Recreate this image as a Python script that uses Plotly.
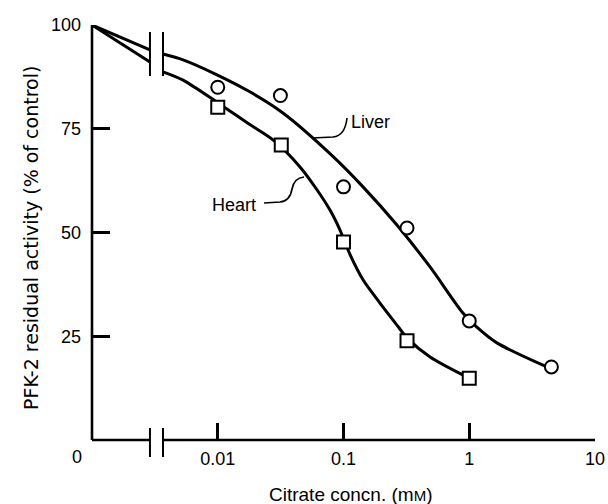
import plotly.graph_objects as go
import math

# ---- data ----
# Citrate concentration (mM); 0 mM is drawn at 0.001 on the broken log axis
liver_x = [0.01, 0.0315, 0.1, 0.32, 1.0, 4.5]
liver_y = [85.0, 83.0, 61.0, 51.1, 28.7, 17.6]
heart_x = [0.01, 0.032, 0.1, 0.32, 1.0]
heart_y = [80.2, 71.1, 47.7, 23.9, 14.9]

# fitted curves as drawn, split by the axis break
liver_seg1_x = [0.001, 0.00289]
liver_seg1_y = [100.0, 94.0]
liver_seg2_x = [0.00367, 0.0053, 0.00986, 0.0180, 0.0330, 0.0781, 0.143, 0.266, 0.488, 0.891, 1.15, 1.66, 4.15]
liver_seg2_y = [93.0, 91.6, 88.0, 83.9, 78.8, 69.0, 61.0, 51.8, 41.7, 30.6, 27.2, 23.4, 17.6]
heart_seg1_x = [0.001, 0.00289]
heart_seg1_y = [100.0, 91.1]
heart_seg2_x = [0.00367, 0.0053, 0.00986, 0.0180, 0.0275, 0.0451, 0.0615, 0.0781, 0.0938, 0.113, 0.143,
                0.195, 0.266, 0.320, 0.488, 1.0]
heart_seg2_y = [88.7, 86.7, 81.4, 76.0, 72.3, 65.8, 60.3, 55.4, 50.6, 44.6, 38.6,
                33.0, 27.7, 24.6, 20.0, 14.9]

x_tickvals = [0.01, 0.1, 1, 10]
x_ticktext = ["0.01", "0.1", "1", "10"]
y_tickvals = [25, 50, 75, 100]
y_ticktext = ["25", "50", "75", "100"]

break_lo = 0.00289
break_hi = 0.00367

FONT = "Liberation Sans, Arial, Helvetica, sans-serif"
FONT_WIDE = "DejaVu Sans, Verdana, sans-serif"
W, H = 608, 504
# plot area in page pixels: x 92..595, y 25..440
L, R, T, B = 92, W - 595, 25, H - 440
PW, PH = W - L - R, H - T - B


def px(x):  # pixel x -> paper
    return (x - L) / PW


def py(y):  # pixel y -> paper
    return (H - B - y) / PH


def xp(v):
    return (math.log10(v) + 3) / 4


fig = go.Figure()
curve_line = dict(color="black", width=3)
for sx, sy in [(liver_seg1_x, liver_seg1_y), (liver_seg2_x, liver_seg2_y),
               (heart_seg1_x, heart_seg1_y), (heart_seg2_x, heart_seg2_y)]:
    fig.add_trace(go.Scatter(x=sx, y=sy, mode="lines", line=dict(shape="spline", smoothing=0.8, **curve_line),
                             hoverinfo="skip", showlegend=False))

fig.add_trace(go.Scatter(x=liver_x, y=liver_y, mode="markers", name="Liver",
                         marker=dict(symbol="circle", size=13, color="white", line=dict(color="black", width=2)),
                         showlegend=False))
fig.add_trace(go.Scatter(x=heart_x, y=heart_y, mode="markers", name="Heart",
                         marker=dict(symbol="square", size=13, color="white", line=dict(color="black", width=2)),
                         showlegend=False))

shapes = []
ax = dict(type="line", xref="paper", yref="paper", line=dict(color="black", width=2.6))
# y axis line
shapes.append(dict(ax, x0=0, x1=0, y0=0, y1=1))
# x axis line, broken
shapes.append(dict(ax, x0=0, x1=xp(break_lo), y0=0, y1=0))
shapes.append(dict(ax, x0=xp(break_hi), x1=1, y0=0, y1=0))
# break marks
bm = dict(type="line", xref="paper", yref="paper", line=dict(color="black", width=2))
for b in (break_lo, break_hi):
    shapes.append(dict(bm, x0=xp(b), x1=xp(b), y0=py(457), y1=py(428)))
    shapes.append(dict(bm, x0=xp(b), x1=xp(b), y0=py(76), y1=py(32)))
# leader lines for labels
liver_path = "M{},{} L{},{} Q{},{} {},{}".format(px(312), py(138), px(333), py(137), px(345), py(136), px(347), py(118))
heart_path = "M{},{} L{},{} Q{},{} {},{} Q{},{} {},{}".format(px(264), py(203), px(280), py(202), px(290), py(201),
                                                             px(292), py(189), px(294), py(178), px(304), py(177))
for p in (liver_path, heart_path):
    shapes.append(dict(type="path", xref="paper", yref="paper", path=p, line=dict(color="black", width=1.6)))

annotations = [
    dict(text="Liver", xref="paper", yref="paper", x=px(349), y=py(122), xanchor="left", yanchor="middle",
         showarrow=False, font=dict(size=18, color="black", family=FONT)),
    dict(text="Heart", xref="paper", yref="paper", x=px(258), y=py(205), xanchor="right", yanchor="middle",
         showarrow=False, font=dict(size=18, color="black", family=FONT)),
    dict(text="0", xref="paper", yref="paper", x=px(77), y=py(457), xanchor="center", yanchor="middle",
         showarrow=False, font=dict(size=18, color="black", family=FONT)),
    dict(text="Citrate concn. (m<span style='font-size:15px'>M</span>)", xref="paper", yref="paper",
         x=px(350), y=py(494), xanchor="center", yanchor="middle",
         showarrow=False, font=dict(size=19, color="black", family=FONT)),
    dict(text="PFK-2 residual activity (% of control)", xref="paper", yref="paper",
         x=px(31), y=py(238), xanchor="center", yanchor="middle", textangle=-90,
         showarrow=False, font=dict(size=19, color="black", family=FONT_WIDE)),
]

fig.update_layout(
    width=W, height=H,
    margin=dict(l=L, r=R, t=T, b=B, pad=0, autoexpand=False),
    paper_bgcolor="white", plot_bgcolor="white",
    font=dict(family=FONT, color="black", size=18),
    shapes=shapes, annotations=annotations,
    xaxis=dict(type="log", range=[-3, 1], showline=False, showgrid=False, zeroline=False,
               ticks="inside", ticklen=17, tickwidth=2.5, tickcolor="black", automargin=False,
               tickvals=x_tickvals, ticktext=x_ticktext, tickfont=dict(size=18), ticklabelstandoff=6),
    yaxis=dict(range=[0, 100], showline=False, showgrid=False, zeroline=False,
               ticks="inside", ticklen=18, tickwidth=2.5, tickcolor="black", automargin=False,
               tickvals=y_tickvals, ticktext=y_ticktext, tickfont=dict(size=18), ticklabelstandoff=10),
)

fig.write_html("out.html", config={"displayModeBar": False},
               post_script="document.body.style.margin='0px';document.body.style.overflow='hidden';")
